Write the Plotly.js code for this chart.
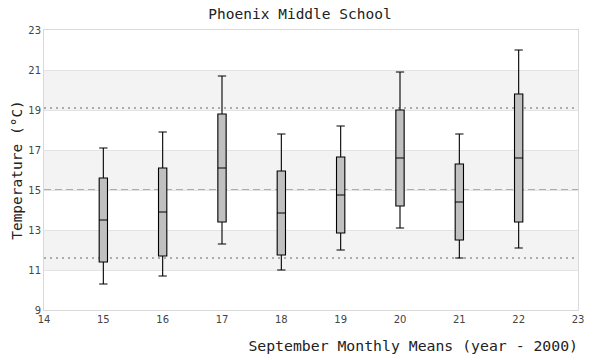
<!DOCTYPE html>
<html><head><meta charset="utf-8">
<script src="https://cdn.plot.ly/plotly-3.0.1.min.js"></script>
<style>body{margin:0;}#chart{width:600px;height:360px;}</style>
</head><body><div id="chart"></div>
<script>
const years = [15, 16, 17, 18, 19, 20, 21, 22];
const lowerWhisker = [10.3, 10.7, 12.3, 11.0, 12.0, 13.1, 11.6, 12.1];
const q1 = [11.4, 11.7, 13.4, 11.75, 12.85, 14.2, 12.5, 13.4];
const median = [13.5, 13.9, 16.1, 13.85, 14.75, 16.6, 14.4, 16.6];
const q3 = [15.6, 16.1, 18.8, 15.95, 16.65, 19.0, 16.3, 19.8];
const upperWhisker = [17.1, 17.9, 20.7, 17.8, 18.2, 20.9, 17.8, 22.0];
const overallMean = 15.0;
const upperLimit = 19.1;
const lowerLimit = 11.6;
const bands = [[11, 13], [15, 17], [19, 21]];

const trace = {
  type: 'box',
  x: years,
  q1: q1, median: median, q3: q3,
  lowerfence: lowerWhisker, upperfence: upperWhisker,
  fillcolor: '#c0c0c0',
  line: {color: '#000', width: 1.1},
  width: 0.14,
  whiskerwidth: 1,
  boxpoints: false,
  hoverinfo: 'skip',
  showlegend: false
};

const shapes = [];
bands.forEach(b => shapes.push({type: 'rect', xref: 'paper', x0: 0, x1: 1, yref: 'y', y0: b[0], y1: b[1],
  fillcolor: '#f3f3f3', line: {width: 0}, layer: 'below'}));
shapes.push({type: 'line', xref: 'paper', x0: 0, x1: 1, yref: 'y', y0: overallMean, y1: overallMean,
  line: {color: '#666', width: 1.2, dash: '7px,4px'}, layer: 'below'});
[upperLimit, lowerLimit].forEach(v => shapes.push({type: 'line', xref: 'paper', x0: 0, x1: 1, yref: 'y', y0: v, y1: v,
  line: {color: '#666', width: 1.2, dash: '2px,4px'}, layer: 'below'}));

const layout = {
  width: 600, height: 360,
  margin: {l: 44, r: 22, t: 30, b: 50},
  paper_bgcolor: '#fff', plot_bgcolor: '#fff',
  title: {text: 'Phoenix Middle School', x: 0.5, xanchor: 'center', y: 0.975, yanchor: 'top',
    font: {family: 'DejaVu Sans Mono', size: 14.5, color: '#222'}},
  xaxis: {
    range: [14, 23], tickvals: [14,15,16,17,18,19,20,21,22,23], showgrid: false, zeroline: false,
    showline: true, mirror: true, linecolor: '#d9d9d9', linewidth: 1,
    tickfont: {family: 'DejaVu Sans', size: 10, color: '#444'}, ticks: '',
    title: {text: 'September Monthly Means (year - 2000)', font: {family: 'DejaVu Sans Mono', size: 14.8, color: '#222'}, standoff: 16}
  },
  yaxis: {
    range: [9, 23], tickvals: [9,11,13,15,17,19,21,23], showgrid: true, gridcolor: '#e3e3e3', gridwidth: 1,
    zeroline: false, showline: true, mirror: true, linecolor: '#d9d9d9', linewidth: 1,
    tickfont: {family: 'DejaVu Sans', size: 10, color: '#444'}, ticks: '', ticklen: 0,
    title: {text: 'Temperature (°C)', font: {family: 'DejaVu Sans Mono', size: 14.5, color: '#222'}, standoff: 2}
  },
  shapes: shapes,
  showlegend: false
};

Plotly.newPlot('chart', [trace], layout, {displayModeBar: false, staticPlot: true}).then(() => {
  const t = document.querySelector('.g-xtitle text');
  if (t) {
    t.setAttribute('text-anchor', 'end');
    t.setAttribute('x', 578);
  }
});
</script>
</body></html>
